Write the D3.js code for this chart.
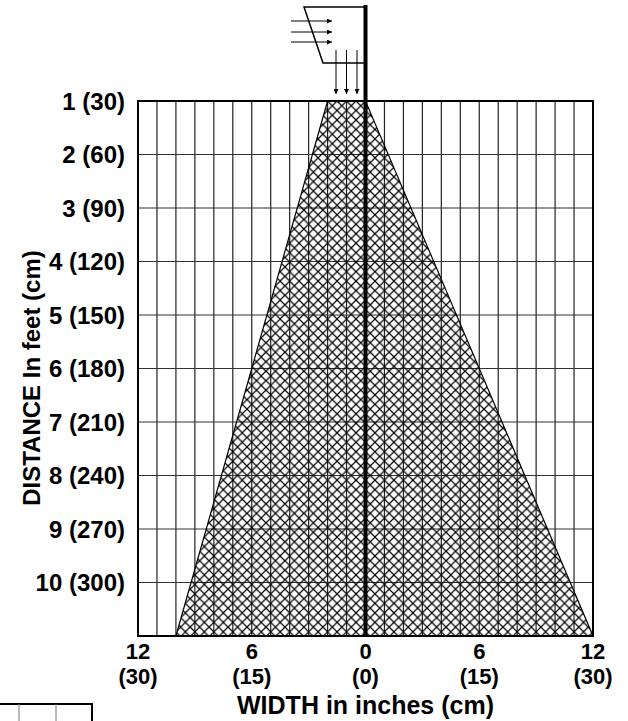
<!DOCTYPE html>
<html>
<head>
<meta charset="utf-8">
<script src="https://cdn.jsdelivr.net/npm/d3@7/dist/d3.min.js"></script>
<style>
  html, body { margin: 0; padding: 0; background: #fff; }
  svg { display: block; }
  text { font-family: "Liberation Sans", Arial, sans-serif; font-weight: bold; fill: #000; }
</style>
</head>
<body>
<svg id="chart" width="628" height="721"></svg>
<script>
// ---- data ----
const distanceFeet = [1, 2, 3, 4, 5, 6, 7, 8, 9, 10, 11];
const yTickValues = [1, 2, 3, 4, 5, 6, 7, 8, 9, 10];
const yTickLabels = ["1 (30)", "2 (60)", "3 (90)", "4 (120)", "5 (150)", "6 (180)", "7 (210)", "8 (240)", "9 (270)", "10 (300)"];
const widthInches = [-12, -11, -10, -9, -8, -7, -6, -5, -4, -3, -2, -1, 0, 1, 2, 3, 4, 5, 6, 7, 8, 9, 10, 11, 12];
const xTickValues = [-12, -6, 0, 6, 12];
const xTickInches = ["12", "6", "0", "6", "12"];
const xTickCm = ["(30)", "(15)", "(0)", "(15)", "(30)"];
// coverage pattern edges: [distance ft, width in]
const leftEdge = [[1, -2], [11, -10]];
const rightEdge = [[1, 0], [11, 12]];

const svg = d3.select("#chart");
const x = d3.scaleLinear().domain([-12, 12]).range([138, 593]);
const y = d3.scaleLinear().domain([1, 11]).range([101, 636]);

// hatch pattern
const step = (x(1) - x(0)) / 2;
const defs = svg.append("defs");
const pat = defs.append("pattern")
  .attr("id", "hatch").attr("patternUnits", "userSpaceOnUse")
  .attr("x", x(0)).attr("y", y(1))
  .attr("width", step).attr("height", step);
pat.append("path")
  .attr("d", `M${-step},${-step}L${2*step},${2*step}M${2*step},${-step}L${-step},${2*step}`)
  .attr("stroke", "#000").attr("stroke-width", 1.2).attr("fill", "none");

// gridlines
const grid = svg.append("g");
grid.selectAll("line.v").data(widthInches.filter(d => d > -12 && d < 12 && d !== 0)).join("line")
  .attr("x1", d => x(d)).attr("x2", d => x(d))
  .attr("y1", y(1)).attr("y2", y(11))
  .attr("stroke", "#222").attr("stroke-width", 1.2);
grid.selectAll("line.h").data(distanceFeet.filter(d => d > 1 && d < 11)).join("line")
  .attr("x1", x(-12)).attr("x2", x(12))
  .attr("y1", d => y(d)).attr("y2", d => y(d))
  .attr("stroke", "#333").attr("stroke-width", 1.2);

// coverage polygon
const poly = leftEdge.concat(rightEdge.slice().reverse());
const line = d3.line().x(d => x(d[1])).y(d => y(d[0]));
svg.append("path")
  .attr("d", line(poly) + "Z")
  .attr("fill", "url(#hatch)")
  .attr("stroke", "#000").attr("stroke-width", 1.2);

// border
svg.append("rect")
  .attr("x", x(-12)).attr("y", y(1))
  .attr("width", x(12) - x(-12)).attr("height", y(11) - y(1))
  .attr("fill", "none").attr("stroke", "#000").attr("stroke-width", 2);

// center line (sensor axis)
svg.append("line")
  .attr("x1", x(0)).attr("x2", x(0))
  .attr("y1", 5).attr("y2", y(11))
  .attr("stroke", "#000").attr("stroke-width", 4);

// sensor icon
defs.append("marker").attr("id", "arr").attr("viewBox", "0 0 10 10")
  .attr("refX", 10).attr("refY", 5).attr("markerWidth", 7).attr("markerHeight", 5)
  .attr("markerUnits", "userSpaceOnUse").attr("orient", "auto")
  .append("path").attr("d", "M0,0L10,5L0,10Z").attr("fill", "#000");
const icon = svg.append("g");
icon.append("path")
  .attr("d", `M${x(0)},7 L304,7 L323,63 L${x(0)},63`)
  .attr("fill", "none").attr("stroke", "#000").attr("stroke-width", 1.5);
[21, 32, 42].forEach(yy => {
  icon.append("line").attr("x1", 291).attr("x2", 332).attr("y1", yy).attr("y2", yy)
    .attr("stroke", "#000").attr("stroke-width", 1).attr("marker-end", "url(#arr)");
});
[336, 346.5, 357].forEach(xx => {
  icon.append("line").attr("x1", xx).attr("x2", xx).attr("y1", 50).attr("y2", 94)
    .attr("stroke", "#000").attr("stroke-width", 1).attr("marker-end", "url(#arr)");
});

// y tick labels
svg.append("g").selectAll("text").data(yTickValues).join("text")
  .attr("x", 125).attr("y", d => y(d)).attr("dy", "0.36em")
  .attr("text-anchor", "end").attr("font-size", 24)
  .text((d, i) => yTickLabels[i]);

// x tick labels
const xt = svg.append("g").selectAll("g").data(xTickValues).join("g")
  .attr("transform", d => `translate(${x(d)},0)`);
xt.append("text").attr("y", 659).attr("text-anchor", "middle").attr("font-size", 22)
  .text((d, i) => xTickInches[i]);
xt.append("text").attr("y", 684).attr("text-anchor", "middle").attr("font-size", 22)
  .text((d, i) => xTickCm[i]);

// axis titles
svg.append("text").attr("x", x(0)).attr("y", 714).attr("text-anchor", "middle")
  .attr("font-size", 25).text("WIDTH in inches (cm)");
svg.append("text").attr("transform", "translate(40,378) rotate(-90)")
  .attr("text-anchor", "middle").attr("font-size", 24).text("DISTANCE In feet (cm)");

// partial box at bottom-left
const box = svg.append("g");
box.append("line").attr("x1", 0).attr("x2", 93).attr("y1", 704).attr("y2", 704)
  .attr("stroke", "#000").attr("stroke-width", 2);
[19, 56].forEach(xx => box.append("line").attr("x1", xx).attr("x2", xx).attr("y1", 704).attr("y2", 721)
  .attr("stroke", "#777").attr("stroke-width", 1));
box.append("line").attr("x1", 92).attr("x2", 92).attr("y1", 703).attr("y2", 721)
  .attr("stroke", "#000").attr("stroke-width", 2);
</script>
</body>
</html>
